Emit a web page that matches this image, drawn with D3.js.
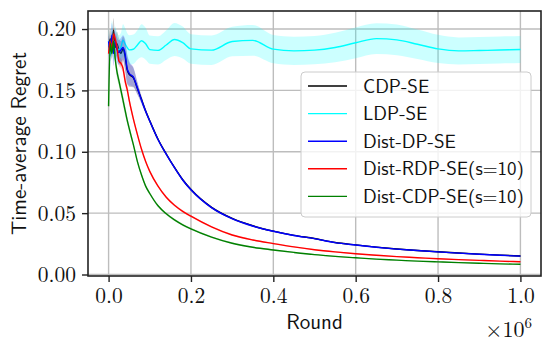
<!DOCTYPE html>
<html>
<head>
<meta charset="utf-8">
<script src="https://cdnjs.cloudflare.com/ajax/libs/d3/7.8.5/d3.min.js"></script>
<style>
  body { margin: 0; background: #fff; }
  svg { display: block; }
  .serif { font-family: "Latin Modern Roman", "Liberation Serif", serif; }
  .sans { font-family: "Latin Modern Sans", "Open Sans", sans-serif; }
</style>
</head>
<body>
<div id="chart"></div>
<script>
// Rounds, in units of 1e6
const rounds = [0, 0.004, 0.008, 0.012, 0.016, 0.02, 0.025, 0.03, 0.035, 0.04, 0.045, 0.05,
  0.06, 0.07, 0.08, 0.09, 0.1, 0.12, 0.14, 0.16, 0.18, 0.2, 0.25, 0.3, 0.35, 0.4, 0.45,
  0.5, 0.55, 0.6, 0.65, 0.7, 0.75, 0.8, 0.85, 0.9, 0.95, 1.0];

const cdpSe = [0.185, 0.192, 0.186, 0.199, 0.185, 0.188, 0.183, 0.180, 0.184, 0.178, 0.167, 0.163,
  0.1605, 0.1515, 0.1425, 0.1332, 0.1252, 0.1102, 0.0982, 0.0872, 0.0772, 0.0692, 0.0547, 0.0457,
  0.0397, 0.0353, 0.0319, 0.0293, 0.0261, 0.0241, 0.0223, 0.0208, 0.0196, 0.0185, 0.0175, 0.0166,
  0.0158, 0.0151];
const cdpSpread = [0.006, 0.008, 0.01, 0.01, 0.01, 0.01, 0.01, 0.01, 0.01, 0.012, 0.012, 0.01,
  0.008, 0.005, 0.003, 0.002, 0.0015, 0.0012, 0.0012, 0.001, 0.001, 0.001, 0.0009, 0.0008, 0.0007,
  0.0006, 0.0006, 0.0005, 0.0005, 0.0005, 0.0005, 0.0005, 0.0005, 0.0005, 0.0005, 0.0005, 0.0005, 0.0005];

const ldpSe = [0.190, 0.178, 0.195, 0.186, 0.190, 0.186, 0.183, 0.185, 0.191, 0.188, 0.185, 0.183,
  0.1835, 0.187, 0.1905, 0.188, 0.1832, 0.1826, 0.187, 0.1915, 0.189, 0.1838, 0.1828, 0.1898,
  0.1908, 0.1836, 0.1822, 0.1828, 0.185, 0.1888, 0.1922, 0.1912, 0.1876, 0.1838, 0.1822, 0.1825,
  0.1829, 0.1833];
const ldpSpread = [0.012, 0.012, 0.012, 0.012, 0.012, 0.012, 0.012, 0.012, 0.013, 0.013, 0.012, 0.012,
  0.012, 0.012, 0.0135, 0.013, 0.0115, 0.0115, 0.012, 0.0135, 0.013, 0.012, 0.012, 0.012, 0.0125,
  0.0115, 0.0115, 0.0115, 0.012, 0.0125, 0.0125, 0.0125, 0.012, 0.0115, 0.011, 0.011, 0.011, 0.011];

const distDpSe = [0.190, 0.182, 0.195, 0.180, 0.190, 0.184, 0.181, 0.183, 0.185, 0.180, 0.168, 0.164,
  0.161, 0.152, 0.142, 0.133, 0.125, 0.110, 0.098, 0.087, 0.077, 0.069, 0.0545, 0.0455, 0.0395,
  0.0352, 0.0318, 0.0292, 0.026, 0.024, 0.0222, 0.0207, 0.0195, 0.0184, 0.0174, 0.0165, 0.0157, 0.015];
const distDpSpread = [0.006, 0.008, 0.01, 0.01, 0.01, 0.01, 0.01, 0.01, 0.01, 0.012, 0.012, 0.01,
  0.008, 0.005, 0.003, 0.002, 0.0015, 0.0012, 0.0012, 0.001, 0.001, 0.001, 0.0009, 0.0008, 0.0007,
  0.0006, 0.0006, 0.0005, 0.0005, 0.0005, 0.0005, 0.0005, 0.0005, 0.0005, 0.0005, 0.0005, 0.0005, 0.0005];

const distRdpSe = [0.180, 0.190, 0.183, 0.196, 0.192, 0.186, 0.174, 0.172, 0.168, 0.158, 0.151, 0.142,
  0.127, 0.114, 0.102, 0.092, 0.084, 0.072, 0.063, 0.0565, 0.0515, 0.0475, 0.0388, 0.0322, 0.0281,
  0.0252, 0.0225, 0.0202, 0.0184, 0.0169, 0.0157, 0.0146, 0.0137, 0.0128, 0.0121, 0.0115, 0.0109, 0.0104];
const distRdpSpread = [0.004, 0.005, 0.005, 0.005, 0.005, 0.005, 0.004, 0.004, 0.004, 0.004, 0.003, 0.003,
  0.002, 0.0018, 0.0015, 0.0013, 0.0012, 0.001, 0.001, 0.0009, 0.0009, 0.0008, 0.0007, 0.0007, 0.0006,
  0.0006, 0.0005, 0.0005, 0.0005, 0.0004, 0.0004, 0.0004, 0.0004, 0.0004, 0.0004, 0.0004, 0.0004, 0.0004];

const distCdpSe = [0.137, 0.188, 0.180, 0.190, 0.176, 0.166, 0.158, 0.150, 0.142, 0.134, 0.126, 0.119,
  0.106, 0.092, 0.081, 0.072, 0.066, 0.056, 0.0495, 0.0445, 0.0405, 0.0372, 0.0305, 0.0255, 0.0222,
  0.0200, 0.0180, 0.0162, 0.0148, 0.0136, 0.0125, 0.0117, 0.0109, 0.0103, 0.0097, 0.0092, 0.0087, 0.0083];
const distCdpSpread = distRdpSpread;

const legendLabels = ['CDP-SE', 'LDP-SE', 'Dist-DP-SE', 'Dist-RDP-SE(s=10)', 'Dist-CDP-SE(s=10)'];
const xTicks = [0, 0.2, 0.4, 0.6, 0.8, 1.0];
const yTicks = [0, 0.05, 0.10, 0.15, 0.20];

const series = [
  { name: legendLabels[0], ys: cdpSe, spread: cdpSpread, color: '#000000' },
  { name: legendLabels[1], ys: ldpSe, spread: ldpSpread, color: '#00ffff' },
  { name: legendLabels[2], ys: distDpSe, spread: distDpSpread, color: '#0000ff' },
  { name: legendLabels[3], ys: distRdpSe, spread: distRdpSpread, color: '#ff0000' },
  { name: legendLabels[4], ys: distCdpSe, spread: distCdpSpread, color: '#008000' },
];

const W = 553, H = 346;
const plot = { left: 88, right: 541, top: 11, bottom: 276 };

const svg = d3.select('#chart').append('svg')
  .attr('width', W)
  .attr('height', H);

const x = d3.scaleLinear().domain([-0.05, 1.05]).range([plot.left, plot.right]);
const y = d3.scaleLinear().domain([-0.00122, 0.2147]).range([plot.bottom, plot.top]);

// Grid
const grid = svg.append('g').attr('class', 'grid');
grid.selectAll('.gx').data(xTicks).enter().append('line')
  .attr('x1', d => x(d)).attr('x2', d => x(d))
  .attr('y1', plot.top).attr('y2', plot.bottom);
grid.selectAll('.gy').data(yTicks).enter().append('line')
  .attr('x1', plot.left).attr('x2', plot.right)
  .attr('y1', d => y(d)).attr('y2', d => y(d));
grid.selectAll('line').attr('stroke', '#bdbdbd').attr('stroke-width', 1.4);

// Bands + lines
const points = s => rounds.map((r, i) => ({ x: r, y: s.ys[i], lo: s.ys[i] - s.spread[i], hi: s.ys[i] + s.spread[i] }));

const area = d3.area()
  .x(d => x(d.x))
  .y0(d => y(d.lo))
  .y1(d => y(d.hi))
  .curve(d3.curveMonotoneX);

const line = d3.line()
  .x(d => x(d.x))
  .y(d => y(d.y))
  .curve(d3.curveMonotoneX);

series.forEach(s => {
  const pts = points(s);
  svg.append('path')
    .attr('d', area(pts))
    .attr('fill', s.color)
    .attr('fill-opacity', 0.2)
    .attr('stroke', 'none');
  svg.append('path')
    .attr('d', line(pts))
    .attr('fill', 'none')
    .attr('stroke', s.color)
    .attr('stroke-width', 1.4);
});

// Axes
const xAxis = svg.append('g')
  .attr('transform', 'translate(0,' + plot.bottom + ')')
  .call(d3.axisBottom(x).tickValues(xTicks).tickFormat(d3.format('.1f')).tickSize(6).tickPadding(6));
const yAxis = svg.append('g')
  .attr('transform', 'translate(' + plot.left + ',0)')
  .call(d3.axisLeft(y).tickValues(yTicks).tickFormat(d3.format('.2f')).tickSize(6).tickPadding(6));

[xAxis, yAxis].forEach(a => {
  a.attr('font-family', null).attr('font-size', null);
  a.select('.domain').remove();
  a.selectAll('.tick line').attr('stroke', '#222').attr('stroke-width', 1.4);
  a.selectAll('.tick text')
    .attr('class', 'serif')
    .attr('fill', '#111')
    .attr('font-size', 21.5);
});

// Spines
svg.append('rect')
  .attr('x', plot.left).attr('y', plot.top)
  .attr('width', plot.right - plot.left).attr('height', plot.bottom - plot.top)
  .attr('fill', 'none')
  .attr('stroke', '#222')
  .attr('stroke-width', 1.6);

// Axis labels
svg.append('text')
  .attr('class', 'sans')
  .attr('x', (plot.left + plot.right) / 2)
  .attr('y', 329)
  .attr('text-anchor', 'middle')
  .attr('font-size', 21)
  .attr('fill', '#111')
  .text('Round');

svg.append('text')
  .attr('class', 'sans')
  .attr('transform', 'translate(26,' + (plot.top + plot.bottom) / 2 + ') rotate(-90)')
  .attr('text-anchor', 'middle')
  .attr('font-size', 21)
  .attr('fill', '#111')
  .text('Time-average Regret');

const offset = svg.append('text')
  .attr('class', 'serif')
  .attr('x', 532)
  .attr('y', 337)
  .attr('text-anchor', 'end')
  .attr('font-size', 22)
  .attr('fill', '#111');
offset.append('tspan').text('×10');
offset.append('tspan').attr('dy', -9).attr('font-size', 15).text('6');

// Legend
const legend = svg.append('g').attr('class', 'legend');
legend.append('rect')
  .attr('x', 301).attr('y', 72)
  .attr('width', 230).attr('height', 145)
  .attr('rx', 4)
  .attr('fill', '#fff')
  .attr('fill-opacity', 0.8)
  .attr('stroke', '#cccccc')
  .attr('stroke-width', 1);

const rows = legend.selectAll('.row').data(series).enter().append('g')
  .attr('transform', (d, i) => 'translate(0,' + (86 + i * 27.6) + ')');
rows.append('line')
  .attr('x1', 308).attr('x2', 347)
  .attr('stroke', d => d.color)
  .attr('stroke-width', 1.4);
rows.append('text')
  .attr('class', 'sans')
  .attr('x', 363)
  .attr('dy', '0.35em')
  .attr('font-size', 19)
  .attr('fill', '#111')
  .text(d => d.name);
</script>
</body>
</html>
